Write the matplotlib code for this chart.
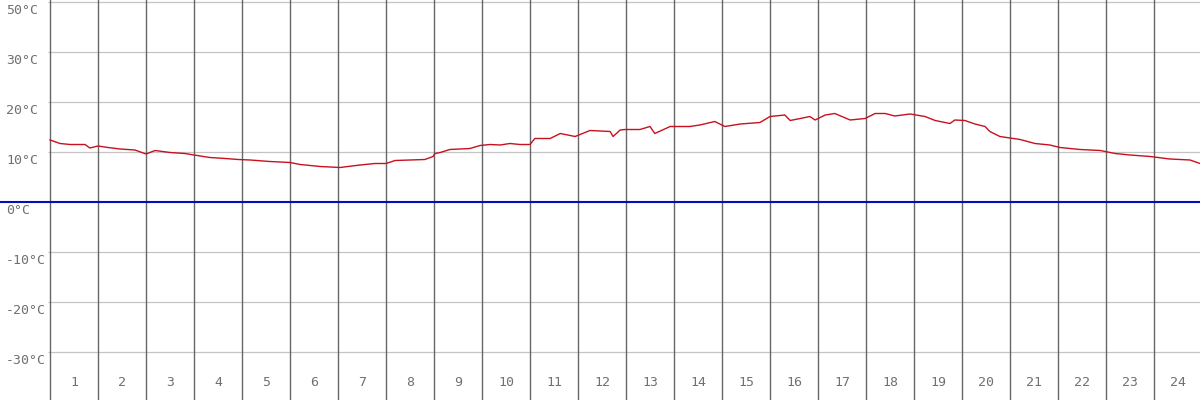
import matplotlib.pyplot as plt

# temperature curve (hour of day, degrees C)
hours = [0.0, 0.21, 0.42, 0.73, 0.83, 1.0, 1.21, 1.46, 1.77, 2.0, 2.19, 2.5, 2.81, 3.0,
         3.33, 3.65, 3.92, 4.17, 4.58, 5.0, 5.21, 5.63, 6.04, 6.46, 6.77, 7.0, 7.19, 7.5,
         7.81, 7.98, 8.02, 8.13, 8.33, 8.75, 8.96, 9.17, 9.38, 9.58, 9.79, 10.0, 10.1,
         10.42, 10.63, 10.94, 11.25, 11.67, 11.73, 11.88, 11.98, 12.29, 12.5, 12.6, 12.92,
         13.33, 13.54, 13.85, 14.06, 14.38, 14.79, 15.0, 15.31, 15.42, 15.63, 15.83, 15.94,
         16.15, 16.35, 16.67, 16.98, 17.19, 17.4, 17.6, 17.92, 18.23, 18.44, 18.75, 18.85,
         19.06, 19.27, 19.48, 19.58, 19.79, 20.21, 20.52, 20.83, 21.04, 21.46, 21.88, 22.19,
         22.5, 22.92, 23.33, 23.75, 23.96]
temps = [12.4, 11.7, 11.5, 11.5, 10.8, 11.2, 10.9, 10.6, 10.4, 9.6, 10.3, 9.9, 9.7, 9.4,
         8.9, 8.7, 8.5, 8.4, 8.1, 7.9, 7.5, 7.1, 6.9, 7.4, 7.7, 7.7, 8.3, 8.4,
         8.5, 9.1, 9.7, 9.9, 10.5, 10.7, 11.3, 11.5, 11.4, 11.7, 11.5, 11.5, 12.7,
         12.7, 13.7, 13.1, 14.3, 14.1, 13.1, 14.4, 14.5, 14.5, 15.1, 13.7, 15.1,
         15.1, 15.4, 16.1, 15.1, 15.6, 15.9, 17.1, 17.4, 16.3, 16.7, 17.1, 16.4,
         17.4, 17.7, 16.4, 16.7, 17.7, 17.7, 17.2, 17.6, 17.1, 16.3, 15.7, 16.4,
         16.3, 15.6, 15.1, 14.1, 13.1, 12.5, 11.7, 11.4, 10.9, 10.5, 10.3, 9.7,
         9.4, 9.1, 8.6, 8.4, 7.7]

grid_temps = [40, 30, 20, 10, -10, -20, -30]
y_labels = ['50°C', '30°C', '20°C', '10°C', '0°C', '-10°C', '-20°C', '-30°C']
y_label_pos = [40, 30, 20, 10, 0, -10, -20, -30]
hour_labels = [str(h) for h in range(1, 25)]

fig = plt.figure(figsize=(12, 4), dpi=100)
ax = fig.add_axes([0, 0, 1, 1])
ax.set_xlim(-50 / 48, 1150 / 48)
ax.set_ylim(-39.6, 40.4)
ax.axis('off')

# horizontal grid
ax.hlines(grid_temps, -2 / 48, 24, color='#c4c4c4', lw=0.9)
# vertical hour dividers
for h in range(24):
    ax.axvline(h, color='#666666', lw=1.0)
# zero line
ax.axhline(0, color='#0010b8', lw=1.5)

ax.plot(hours, temps, color='#c8101e', lw=1.0)

for lab, t in zip(y_labels, y_label_pos):
    ax.text(-44 / 48, t - 0.5, lab, ha='left', va='top', fontsize=9.5,
            family='DejaVu Sans Mono', color='#707070')

for i, lab in enumerate(hour_labels):
    ax.text(i + 0.5, -36.2, lab, ha='center', va='center', fontsize=9.5,
            family='DejaVu Sans Mono', color='#707070')

plt.savefig('out.png', dpi=100)
